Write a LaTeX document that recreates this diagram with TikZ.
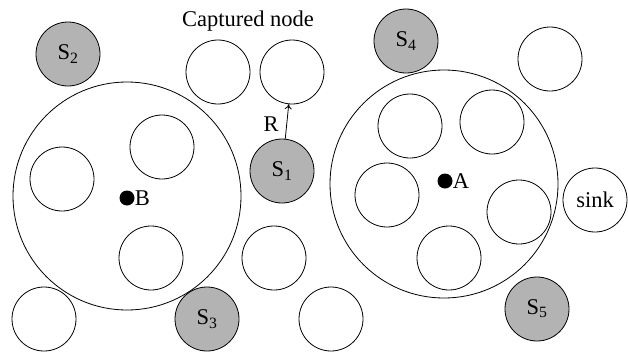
\documentclass[tikz,border=0pt]{standalone}
\usepackage{fontspec}
\setmainfont{Liberation Serif}
\usetikzlibrary{arrows.meta}
\definecolor{sgray}{RGB}{179,179,179}
\tikzset{
  sn/.style={circle,draw,line width=0.8pt,minimum size=64pt,inner sep=0pt,font=\fontsize{22.5}{26}\selectfont},
  gs/.style={sn,fill=sgray},
  big/.style={circle,draw,line width=0.8pt,minimum size=228pt,inner sep=0pt},
  dot/.style={circle,fill=black,minimum size=15pt,inner sep=0pt},
  lbl/.style={font=\fontsize{22.5}{26}\selectfont,inner sep=0pt}
}
\begin{document}
\begin{tikzpicture}[x=1pt,y=-1pt]
\useasboundingbox (0,0) rectangle (628,351);
% big circles
\node[big] (bigB) at (127,196) {};
\node[big] (bigA) at (444,184) {};
% sensors
\node[gs] (s2) at (68,54) {S\textsubscript{2}};
\node[gs] (s1) at (282,171) {S\textsubscript{1}};
\node[gs] (s3) at (207,319) {S\textsubscript{3}};
\node[gs] (s4) at (406,41) {S\textsubscript{4}};
\node[gs] (s5) at (537,309) {S\textsubscript{5}};
\node[sn] (sink) at (595,200) {sink};
% plain nodes
\node[sn] (c1) at (218,72) {};
\node[sn] (cap) at (292,72) {};
\node[sn] (b1) at (162,147) {};
\node[sn] (b2) at (62,179) {};
\node[sn] (b3) at (151,258) {};
\node[sn] (o1) at (44,319) {};
\node[sn] (o2) at (274,258) {};
\node[sn] (o3) at (331,319) {};
\node[sn] (a1) at (410,126) {};
\node[sn] (a2) at (492,122) {};
\node[sn] (a3) at (387,195) {};
\node[sn] (a4) at (519,212) {};
\node[sn] (a5) at (449,258) {};
\node[sn] (tr) at (550,59) {};
% centers
\node[dot] (dB) at (127,198) {};
\node[lbl,anchor=west] (lB) at (dB.east) {B};
\node[dot] (dA) at (445,181) {};
\node[lbl,anchor=west] (lA) at (dA.east) {A};
% captured label
\node[lbl] (captxt) at (248,21) {Captured node};
% arrow
\draw[line width=0.8pt,-{To[length=5pt,width=7pt]}] (s1) -- (cap);
\node[lbl] (R) at (271,124) {R};
\end{tikzpicture}
\end{document}
